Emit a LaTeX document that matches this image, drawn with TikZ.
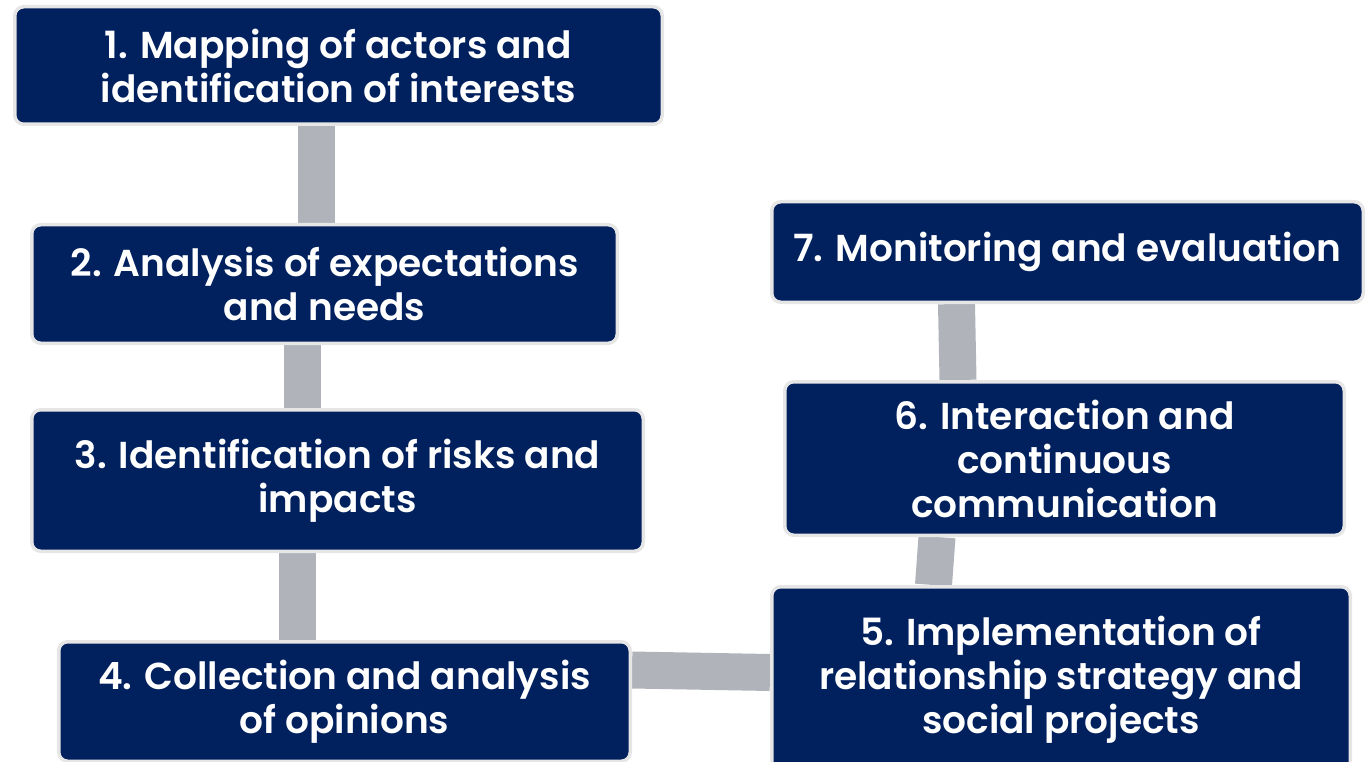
\documentclass[tikz,border=0pt]{standalone}
\usepackage{fontspec}
\setmainfont{Poppins}[UprightFont=* SemiBold, BoldFont=* Bold]
\usetikzlibrary{backgrounds}
\definecolor{navy}{HTML}{00205E}
\definecolor{rim}{HTML}{E6E6E6}
\definecolor{barcol}{HTML}{B0B3BA}
\tikzset{
  stepbox/.style={draw=rim, line width=3.5pt, fill=navy, rounded corners=9pt,
    text=white, align=center, inner sep=0pt,
    font=\fontsize{37.5}{44}\selectfont},
  bar/.style={draw=barcol, line width=37pt, line cap=butt},
}
\begin{document}
\begin{tikzpicture}[x=1pt, y=-1pt]
\useasboundingbox (0,0) rectangle (1371,762);
\clip (0,0) rectangle (1371,762);
% process steps
\node[stepbox, minimum width=647.5pt, minimum height=117.5pt] (b1) at (338.5,65.5)
  {1. Mapping of actors and\\identification of interests};
\node[stepbox, minimum width=585.5pt, minimum height=118.5pt] (b2) at (324.5,284)
  {2. Analysis of expectations\\and needs};
\node[stepbox, minimum width=611.5pt, minimum height=141.5pt] (b3) at (337.5,480.5)
  {3. Identification of risks and\\impacts};
\node[stepbox, minimum width=571.5pt, minimum height=119.5pt] (b4) at (344.5,701.5)
  {4. Collection and analysis\\of opinions};
\node[stepbox, minimum width=578.5pt, minimum height=186.5pt] (b5) at (1061,680)
  {5. Implementation of\\relationship strategy and\\social projects};
\node[stepbox, minimum width=559.5pt, minimum height=153.5pt] (b6) at (1064.5,458.5)
  {6. Interaction and\\continuous\\communication};
\node[stepbox, minimum width=591.5pt, minimum height=100.5pt] (b7) at (1067.5,252)
  {7. Monitoring and evaluation};
% links between consecutive steps
\begin{scope}[on background layer]
\draw[bar] ([xshift=-22pt]b1.south) -- ([xshift=-8pt]b2.north);
\draw[bar] ([xshift=-22.5pt]b2.south) -- ([xshift=-35.5pt]b3.north);
\draw[bar] ([xshift=-40.5pt]b3.south) -- ([xshift=-47.5pt]b4.north);
\draw[bar] ([yshift=31.5pt]b4.east) -- ([yshift=7.5pt]b5.west);
\draw[bar] ([xshift=-127.5pt]b5.north) -- ([xshift=-127.5pt]b6.south);
\draw[bar] ([xshift=-106.5pt]b6.north) -- ([xshift=-111pt]b7.south);
\end{scope}
\end{tikzpicture}
\end{document}
